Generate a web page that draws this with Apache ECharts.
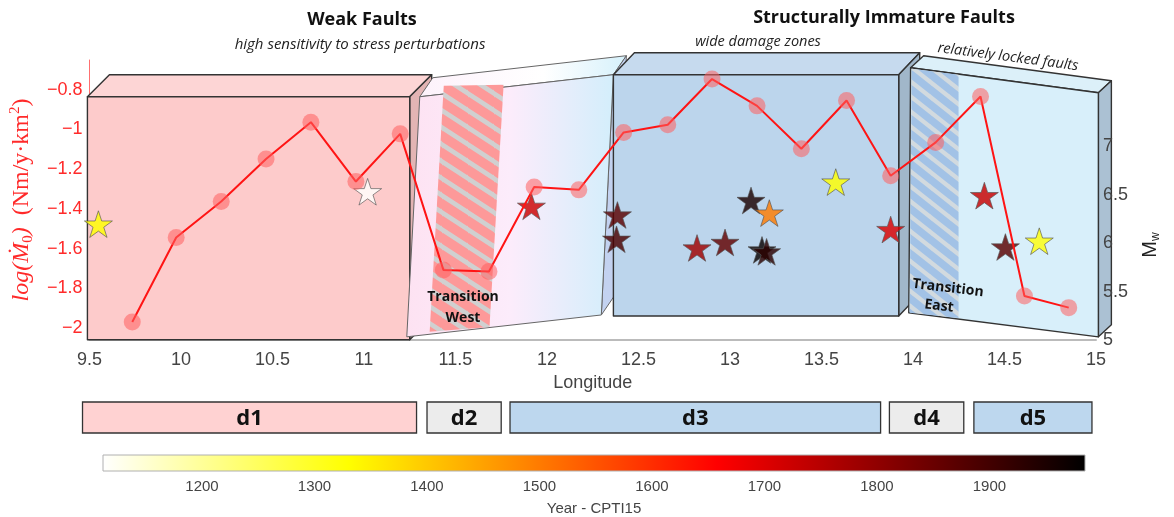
<!DOCTYPE html>
<html>
<head>
<meta charset="utf-8">
<script src="https://cdn.jsdelivr.net/npm/echarts@6/dist/echarts.min.js"></script>
<style>
  html, body { margin: 0; padding: 0; background: #fff; }
  #chart { width: 1174px; height: 517px; }
</style>
</head>
<body>
<div id="chart"></div>
<script>
// moment rate profile (red line, left axis)
const rateLon = [9.734, 9.974, 10.22, 10.465, 10.71, 10.956, 11.198, 11.434, 11.683, 11.93, 12.174,
                 12.419, 12.66, 12.902, 13.148, 13.39, 13.637, 13.878, 14.124, 14.369, 14.609, 14.851];
const rateLog = [-1.969, -1.544, -1.363, -1.149, -0.963, -1.262, -1.022, -1.707, -1.715, -1.29, -1.304,
                 -1.015, -0.976, -0.746, -0.881, -1.097, -0.854, -1.233, -1.065, -0.834, -1.838, -1.897];

// historical earthquakes (stars, right axis), coloured by year
const eqLon  = [9.549, 11.02, 11.915, 12.385, 12.38, 12.82, 12.973, 13.115, 13.215, 13.175, 13.2, 13.578, 13.878, 14.39, 14.505, 14.69];
const eqMw   = [6.196, 6.53, 6.38, 6.29, 6.04, 5.95, 6.007, 6.44, 6.31, 5.93, 5.91, 6.63, 6.14, 6.49, 5.96, 6.02];
const eqYear = [1330, 1115, 1725, 1870, 1890, 1780, 1860, 1950, 1500, 1975, 1930, 1330, 1705, 1730, 1870, 1320];

// tick labels
const rateTicks = [-2, -1.8, -1.6, -1.4, -1.2, -1, -0.8];
const mwTicks = [5, 5.5, 6, 6.5, 7];
const yearTicks = [1200, 1300, 1400, 1500, 1600, 1700, 1800, 1900];
const yearMin = 1112, yearMax = 1985;

// fault blocks: front face corners TL, TR, BR, BL as [lon, log rate]
const blockTL = [[9.489, -0.835], [11.305, -0.835], [12.363, -0.724], [13.987, -0.689]];
const blockTR = [[11.25, -0.835], [12.363, -0.724], [13.922, -0.724], [15.013, -0.815]];
const blockBR = [[11.25, -2.059], [12.297, -1.934], [13.922, -1.939], [15.013, -2.044]];
const blockBL = [[9.489, -2.059], [11.234, -2.044], [12.363, -1.939], [13.977, -1.923]];

// transition strips (hatched)
const hatchTL = [[11.436, -0.78], [13.993, -0.694]];
const hatchTR = [[11.763, -0.775], [14.249, -0.724]];
const hatchBR = [[11.686, -1.994], [14.249, -1.949]];
const hatchBL = [[11.359, -2.019], [13.982, -1.923]];

// domains
const domainNames = ['d1', 'd2', 'd3', 'd4', 'd5'];
const domainStart = [9.481, 11.357, 11.809, 13.875, 14.335];
const domainEnd   = [11.30, 11.761, 13.827, 14.28, 14.978];

const hotColors = ['#ffffff', '#ffff80', '#ffff00', '#ffaa00', '#ff5500', '#ff0000', '#aa0000', '#550000', '#000000'];

const STAR = 'path://M50,0 L61.23,34.55 L97.55,34.55 L68.17,55.9 L79.39,90.45 L50,69.1 L20.61,90.45 L31.83,55.9 L2.45,34.55 L38.77,34.55 Z';

const LG = echarts.graphic.LinearGradient;
const blockDepth = [[22, -22], [13, -19], [21, -22], [13, -12]];
const blockStyle = [
  { front: '#fdcbcb', top: '#fdd5d5', side: '#e3b4b4', line: '#333' },
  { front: new LG(0, 0, 1, 0, [{ offset: 0, color: '#fde2f2' }, { offset: 0.5, color: '#fcecfb' }, { offset: 1, color: '#d3eefb' }]),
    top: new LG(0, 0, 1, 0, [{ offset: 0, color: '#fdf2fb' }, { offset: 0.6, color: '#ffffff' }, { offset: 1, color: '#d6f1fb' }]),
    side: '#c3d2f0', line: '#666' },
  { front: '#bcd5ec', top: '#c6daee', side: '#a1b7ca', line: '#333' },
  { front: '#d8effa', top: '#dcf0f9', side: '#abc1d3', line: '#333' }
];

// diagonal stripe tile, w x h, stripes running down to the right
function stripes(bg, fg, w, h, width) {
  const c = document.createElement('canvas');
  c.width = w; c.height = h;
  const g = c.getContext('2d');
  g.fillStyle = bg; g.fillRect(0, 0, w, h);
  g.strokeStyle = fg; g.lineWidth = width;
  g.beginPath();
  [-h, 0, h].forEach(k => { g.moveTo(-2, k - 2 * h / w); g.lineTo(w + 2, k + h + 2 * h / w); });
  g.stroke();
  return c;
}
const hatchFill = [
  { image: stripes('#d0d0d0', '#fd9999', 26, 17, 9.5), repeat: 'repeat' },
  { image: stripes('#d2dadf', '#a2c2e6', 19, 15, 7.5), repeat: 'repeat' }
];

function quadData(a, b, c, d) {
  return a.map((p, i) => [p[0], p[1], b[i][0], b[i][1], c[i][0], c[i][1], d[i][0], d[i][1]]);
}
function quadPts(api) {
  return [0, 1, 2, 3].map(k => api.coord([api.value(2 * k), api.value(2 * k + 1)]));
}

function renderBlock(params, api) {
  const i = params.dataIndex;
  const [tl, tr, br, bl] = quadPts(api);
  const [dx, dy] = blockDepth[i];
  const sh = q => [q[0] + dx, q[1] + dy];
  const st = blockStyle[i];
  const lw = i === 1 ? 1 : 1.4;
  return {
    type: 'group',
    children: [
      { type: 'polygon', shape: { points: [tl, sh(tl), sh(tr), tr] }, style: { fill: st.top, stroke: st.line, lineWidth: lw, lineJoin: 'round' } },
      { type: 'polygon', shape: { points: [tr, sh(tr), sh(br), br] }, style: { fill: st.side, stroke: st.line, lineWidth: lw, lineJoin: 'round' } },
      { type: 'polygon', shape: { points: [tl, tr, br, bl] }, style: { fill: st.front, stroke: st.line, lineWidth: lw, lineJoin: 'round' } }
    ]
  };
}

function renderHatch(params, api) {
  return { type: 'polygon', shape: { points: quadPts(api) }, style: { fill: hatchFill[params.dataIndex] } };
}

const domainColors = ['#ffd2d2', '#ececec', '#bdd7ee', '#ececec', '#bdd7ee'];
function renderDomain(params, api) {
  const i = params.dataIndex;
  const a = api.coord([api.value(0), 1]);
  const b = api.coord([api.value(1), 0]);
  return {
    type: 'group',
    children: [
      { type: 'rect', shape: { x: a[0], y: a[1], width: b[0] - a[0], height: b[1] - a[1] },
        style: { fill: domainColors[i], stroke: '#333', lineWidth: 1.3 } },
      { type: 'text', x: (a[0] + b[0]) / 2, y: (a[1] + b[1]) / 2 + 1,
        style: { text: domainNames[i], fontSize: 22, fontWeight: 'bold', fontFamily: 'Open Sans', fill: '#111', align: 'center', verticalAlign: 'middle' } }
    ]
  };
}

function renderColorbar(params, api) {
  const a = api.coord([api.value(0), 1]);
  const b = api.coord([api.value(1), 0]);
  return {
    type: 'rect',
    shape: { x: a[0], y: a[1], width: b[0] - a[0], height: b[1] - a[1] },
    style: {
      fill: new LG(0, 0, 1, 0, hotColors.map((c, k) => ({ offset: k / (hotColors.length - 1), color: c }))),
      stroke: '#b0b0b0', lineWidth: 1
    }
  };
}

const chart = echarts.init(document.getElementById('chart'), null, { renderer: 'canvas' });
const labelFont = 'Liberation Sans';
const red = '#ff2a2a';

chart.setOption({
  backgroundColor: '#fff',
  animation: false,
  grid: [
    { left: 86, right: 78, top: 60, bottom: 177 },
    { left: 86, right: 78, top: 402, height: 31 },
    { left: 103, right: 89, top: 455, height: 18 }
  ],
  xAxis: [
    { type: 'value', gridIndex: 0, min: 9.5, max: 15, interval: 0.5,
      name: 'Longitude', nameLocation: 'middle', nameGap: 31,
      nameTextStyle: { fontFamily: labelFont, fontSize: 18, color: '#444' },
      axisLine: { lineStyle: { color: '#bbb', width: 2 } }, axisTick: { show: false },
      axisLabel: { fontFamily: labelFont, fontSize: 18, color: '#444', margin: 11 },
      splitLine: { show: false } },
    { type: 'value', gridIndex: 1, min: 9.5, max: 15, show: false },
    { type: 'value', gridIndex: 2, min: yearMin, max: yearMax,
      axisLine: { show: false },
      axisTick: { inside: true, length: 7, customValues: yearTicks, lineStyle: { color: '#999' } },
      axisLabel: { customValues: yearTicks, formatter: v => String(v), fontFamily: labelFont, fontSize: 15, color: '#444', margin: 8 },
      splitLine: { show: false },
      name: 'Year - CPTI15', nameLocation: 'middle', nameGap: 30,
      nameTextStyle: { fontFamily: labelFont, fontSize: 15, color: '#444' } }
  ],
  yAxis: [
    { type: 'value', gridIndex: 0, min: -2.06, max: -0.65, position: 'left',
      axisLine: { show: true, lineStyle: { color: '#ff7070', width: 1 } }, axisTick: { show: false },
      axisLabel: { customValues: rateTicks, fontFamily: labelFont, fontSize: 18, color: red, margin: 7,
        formatter: v => String(v).replace('-', '\u2212') },
      splitLine: { show: false },
      name: '{i|log(Ṁ}{s|0}{i|)}{n|  (Nm/y·km}{p|2}{n|)}', nameLocation: 'middle', nameGap: 50, nameRotate: 90,
      nameTextStyle: { rich: {
        i: { fontFamily: 'Liberation Serif', fontStyle: 'italic', fontSize: 24, color: red, lineHeight: 28 },
        n: { fontFamily: 'Liberation Serif', fontSize: 24, color: red, lineHeight: 28 },
        s: { fontFamily: 'Liberation Serif', fontSize: 15, color: red, verticalAlign: 'bottom', lineHeight: 28 },
        p: { fontFamily: 'Liberation Serif', fontSize: 15, color: red, verticalAlign: 'top', lineHeight: 28 }
      } } },
    { type: 'value', gridIndex: 0, min: 5, max: 7.89, position: 'right', z: 10,
      axisLine: { show: false }, axisTick: { show: false },
      axisLabel: { customValues: mwTicks, fontFamily: labelFont, fontSize: 18, color: '#444', margin: 7 },
      splitLine: { show: false } },
    { type: 'value', gridIndex: 1, min: 0, max: 1, show: false },
    { type: 'value', gridIndex: 2, min: 0, max: 1, show: false }
  ],
  visualMap: {
    type: 'continuous', show: false, seriesIndex: 2, dimension: 2,
    min: yearMin, max: yearMax, inRange: { color: hotColors }
  },
  graphic: [
    { type: 'text', x: 362, y: 20, style: { text: 'Weak Faults', font: 'bold 18px "Open Sans"', fill: '#111', align: 'center', verticalAlign: 'middle' } },
    { type: 'text', x: 360, y: 45, style: { text: 'high sensitivity to stress perturbations', font: 'italic 15px "Open Sans"', fill: '#222', align: 'center', verticalAlign: 'middle' } },
    { type: 'text', x: 884, y: 18, style: { text: 'Structurally Immature Faults', font: 'bold 18px "Open Sans"', fill: '#111', align: 'center', verticalAlign: 'middle' } },
    { type: 'text', x: 758, y: 42, style: { text: 'wide damage zones', font: 'italic 14.5px "Open Sans"', fill: '#222', align: 'center', verticalAlign: 'middle' } },
    { type: 'text', x: 1008, y: 57, rotation: -0.13, style: { text: 'relatively locked faults', font: 'italic 14.5px "Open Sans"', fill: '#222', align: 'center', verticalAlign: 'middle' } },
    { type: 'text', x: 463, y: 297, z: 20, style: { text: 'Transition', font: 'bold 14px "Open Sans"', fill: '#111', align: 'center', verticalAlign: 'middle' } },
    { type: 'text', x: 463, y: 318, z: 20, style: { text: 'West', font: 'bold 14px "Open Sans"', fill: '#111', align: 'center', verticalAlign: 'middle' } },
    { type: 'text', x: 948, y: 288, z: 20, rotation: -0.12, style: { text: 'Transition', font: 'bold 14px "Open Sans"', fill: '#111', align: 'center', verticalAlign: 'middle' } },
    { type: 'text', x: 939, y: 306, z: 20, rotation: -0.12, style: { text: 'East', font: 'bold 14px "Open Sans"', fill: '#111', align: 'center', verticalAlign: 'middle' } },
    { type: 'text', x: 1150, y: 245, rotation: Math.PI / 2, style: {
        text: 'M{s|w}', fontFamily: labelFont, fontSize: 20, fill: '#222', align: 'center', verticalAlign: 'middle',
        rich: { s: { fontFamily: labelFont, fontSize: 12, fill: '#222', verticalAlign: 'bottom', lineHeight: 24 } } } }
  ],
  series: [
    { type: 'custom', name: 'blocks', xAxisIndex: 0, yAxisIndex: 0, z: 1, silent: true, clip: false,
      renderItem: renderBlock, encode: { x: [0, 2, 4, 6], y: [1, 3, 5, 7] },
      data: quadData(blockTL, blockTR, blockBR, blockBL) },
    { type: 'custom', name: 'transition', xAxisIndex: 0, yAxisIndex: 0, z: 2, silent: true, clip: false,
      renderItem: renderHatch, encode: { x: [0, 2, 4, 6], y: [1, 3, 5, 7] },
      data: quadData(hatchTL, hatchTR, hatchBR, hatchBL) },
    { type: 'scatter', name: 'earthquakes', xAxisIndex: 0, yAxisIndex: 1, z: 3,
      symbol: STAR, symbolKeepAspect: true, symbolSize: 28,
      itemStyle: { opacity: 0.82, borderColor: '#555', borderWidth: 0.8 },
      data: eqLon.map((x, i) => [x, eqMw[i], eqYear[i]]) },
    { type: 'line', name: 'moment rate', xAxisIndex: 0, yAxisIndex: 0, z: 4,
      symbol: 'circle', symbolSize: 17,
      lineStyle: { color: '#ff1414', width: 2 },
      itemStyle: { color: 'rgba(255,95,95,0.55)' },
      data: rateLon.map((x, i) => [x, rateLog[i]]) },
    { type: 'custom', name: 'domains', xAxisIndex: 1, yAxisIndex: 2, silent: true,
      renderItem: renderDomain, encode: { x: [0, 1] },
      data: domainStart.map((s, i) => [s, domainEnd[i]]) },
    { type: 'custom', name: 'colorbar', xAxisIndex: 2, yAxisIndex: 3, silent: true, z: 1,
      renderItem: renderColorbar, encode: { x: [0, 1] },
      data: [[yearMin, yearMax]] }
  ]
});
</script>
</body>
</html>
